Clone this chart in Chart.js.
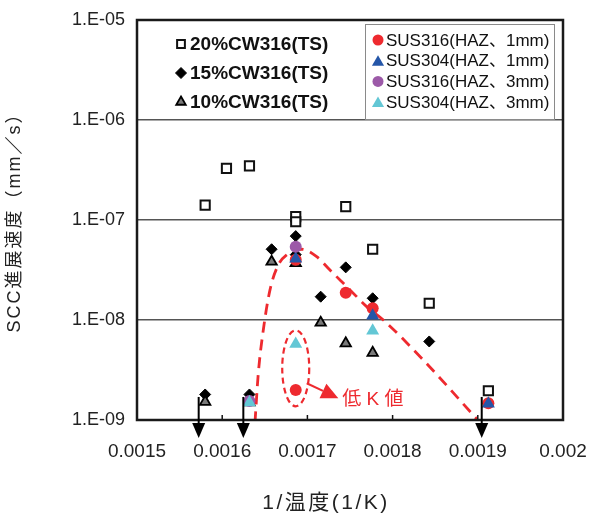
<!DOCTYPE html>
<html lang="ja">
<head>
  <meta charset="UTF-8" />
  <title>SCC進展速度</title>
  <script src="https://cdn.jsdelivr.net/npm/chart.js"></script>
  <style>
    body { margin: 0; background: #fff; }
    canvas { display: block; }
  </style>
</head>
<body>
  <canvas id="scc" width="591" height="513"></canvas>

  <script>
    // axis ticks
    const xTicks = [0.0015, 0.0016, 0.0017, 0.0018, 0.0019, 0.002];
    const xTickLabels = ['0.0015', '0.0016', '0.0017', '0.0018', '0.0019', '0.002'];
    const yTicks = [1e-9, 1e-8, 1e-7, 1e-6, 1e-5];
    const yTickLabels = ['1.E-09', '1.E-08', '1.E-07', '1.E-06', '1.E-05'];

    // 20%CW316(TS)
    const cw20X = [0.00158, 0.001605, 0.001632, 0.0016863, 0.0016863, 0.001745, 0.0017766, 0.001843, 0.0019124];
    const cw20Y = [1.41e-7, 3.29e-7, 3.47e-7, 1.08e-7, 9.6e-8, 1.36e-7, 5.1e-8, 1.47e-8, 1.96e-9];
    // 15%CW316(TS)
    const cw15X = [0.00158, 0.001632, 0.001658, 0.0016863, 0.0016863, 0.0017156, 0.001745, 0.0017766, 0.001843];
    const cw15Y = [1.8e-9, 1.8e-9, 5.1e-8, 6.9e-8, 4.5e-8, 1.71e-8, 3.36e-8, 1.65e-8, 6.1e-9];
    // 10%CW316(TS)
    const cw10X = [0.00158, 0.001632, 0.001658, 0.0016863, 0.0017156, 0.001745, 0.0017766];
    const cw10Y = [1.52e-9, 1.5e-9, 3.83e-8, 3.7e-8, 9.4e-9, 5.85e-9, 4.7e-9];
    // SUS316(HAZ、1mm)
    const s316aX = [0.0016863, 0.0016863, 0.001745, 0.0017766, 0.0019124];
    const s316aY = [4.0e-8, 2.0e-9, 1.87e-8, 1.31e-8, 1.47e-9];
    // SUS304(HAZ、1mm)
    const s304aX = [0.0016863, 0.0017766, 0.0019124];
    const s304aY = [4.1e-8, 1.1e-8, 1.45e-9];
    // SUS316(HAZ、3mm)
    const s316bX = [0.001632, 0.0016863];
    const s316bY = [1.55e-9, 5.4e-8];
    // SUS304(HAZ、3mm)
    const s304bX = [0.001632, 0.0016863, 0.0017766];
    const s304bY = [1.5e-9, 5.75e-9, 7.8e-9];

    // dashed trend curve
    const curveX = [0.0016385, 0.0016424, 0.0016482, 0.0016561, 0.0016658, 0.0016757, 0.0016933, 0.0017109, 0.0017265, 0.00175, 0.0017696, 0.0017891, 0.001836, 0.001899];
    const curveY = [9.5e-10, 2.95e-9, 7.9e-9, 2.0e-8, 3.55e-8, 4.47e-8, 5.1e-8, 4.3e-8, 3.16e-8, 2.0e-8, 1.36e-8, 1.0e-8, 3.98e-9, 1.02e-9];

    // "below detection" arrows
    const arrowX = [0.0015724, 0.0016248, 0.0019046];
    const arrowTopY = 1.7e-9;

    // low K group (ellipse + pointer)
    const lowKCenter = { x: 0.0016863, y: 3.29e-9 };
    const lowKFrom = { x: 0.0016992, y: 2.33e-9 };
    const lowKTo = { x: 0.0017363, y: 1.65e-9 };
    const lowKLabel = '低 K 値';

    const legendLeft = ['20%CW316(TS)', '15%CW316(TS)', '10%CW316(TS)'];
    const legendRight = ['SUS316(HAZ、1mm)', 'SUS304(HAZ、1mm)', 'SUS316(HAZ、3mm)', 'SUS304(HAZ、3mm)'];

    const RED = '#ee2a2f';
    const BLUE = '#2456a8';
    const PURPLE = '#9c5aa8';
    const CYAN = '#63c7d5';
    const GREY = '#7a7a7a';
    const FONT = '"Liberation Sans", Arial, "Noto Sans CJK JP", sans-serif';

    const pts = (xs, ys) => xs.map((x, i) => ({ x: x, y: ys[i] }));

    const markers = {
      cw20: { style: 'rect', r: 6.5, fill: '#fff', stroke: '#111', bw: 2 },
      cw15: { style: 'rectRot', r: 5.5, fill: '#000', stroke: '#000', bw: 1 },
      cw10: { style: 'triangle', r: 6, fill: GREY, stroke: '#000', bw: 1.8 },
      s316a: { style: 'circle', r: 6, fill: RED, stroke: RED, bw: 0 },
      s304a: { style: 'triangle', r: 7.5, fill: BLUE, stroke: BLUE, bw: 0 },
      s316b: { style: 'circle', r: 6, fill: PURPLE, stroke: PURPLE, bw: 0 },
      s304b: { style: 'triangle', r: 7.5, fill: CYAN, stroke: CYAN, bw: 0 }
    };

    function scatterSet(label, data, m, order) {
      return {
        label: label,
        data: data,
        showLine: false,
        pointStyle: m.style,
        pointRadius: m.r,
        pointBackgroundColor: m.fill,
        pointBorderColor: m.stroke,
        pointBorderWidth: m.bw,
        order: order
      };
    }

    function drawMarker(ctx, m, x, y) {
      ctx.save();
      ctx.fillStyle = m.fill;
      ctx.strokeStyle = m.stroke;
      ctx.lineWidth = m.bw;
      ctx.beginPath();
      const r = m.r;
      if (m.style === 'rect') {
        const s = r * Math.SQRT1_2;
        ctx.rect(x - s, y - s, 2 * s, 2 * s);
      } else if (m.style === 'rectRot') {
        ctx.moveTo(x, y - r); ctx.lineTo(x + r, y); ctx.lineTo(x, y + r); ctx.lineTo(x - r, y); ctx.closePath();
      } else if (m.style === 'triangle') {
        const a = 2 * Math.PI / 3;
        ctx.moveTo(x, y - r);
        ctx.lineTo(x + Math.sin(a) * r, y - Math.cos(a) * r);
        ctx.lineTo(x + Math.sin(2 * a) * r, y - Math.cos(2 * a) * r);
        ctx.closePath();
      } else {
        ctx.arc(x, y, r, 0, Math.PI * 2);
      }
      ctx.fill();
      if (m.bw > 0) ctx.stroke();
      ctx.restore();
    }

    const extras = {
      id: 'extras',
      afterDraw(chart) {
        const ctx = chart.ctx;
        const a = chart.chartArea;
        const xs = chart.scales.x, ys = chart.scales.y;

        // inward ticks on the x axis
        ctx.save();
        ctx.strokeStyle = '#111';
        ctx.lineWidth = 1.5;
        xTicks.forEach(v => {
          const px = xs.getPixelForValue(v);
          ctx.beginPath(); ctx.moveTo(px, a.bottom); ctx.lineTo(px, a.bottom - 5); ctx.stroke();
        });
        ctx.restore();

        // frame
        ctx.save();
        ctx.strokeStyle = '#1a1a1a';
        ctx.lineWidth = 2.5;
        ctx.strokeRect(a.left, a.top, a.right - a.left, a.bottom - a.top);
        ctx.restore();

        // arrows
        ctx.save();
        ctx.strokeStyle = '#000';
        ctx.fillStyle = '#000';
        ctx.lineWidth = 2;
        arrowX.forEach(v => {
          const px = xs.getPixelForValue(v);
          const top = ys.getPixelForValue(arrowTopY);
          ctx.beginPath(); ctx.moveTo(px, top); ctx.lineTo(px, a.bottom + 4); ctx.stroke();
          ctx.beginPath();
          ctx.moveTo(px - 6.5, a.bottom + 3);
          ctx.lineTo(px + 6.5, a.bottom + 3);
          ctx.lineTo(px, a.bottom + 18);
          ctx.closePath(); ctx.fill();
        });
        ctx.restore();

        // low K ellipse and pointer
        ctx.save();
        ctx.strokeStyle = RED;
        ctx.fillStyle = RED;
        ctx.lineWidth = 2.2;
        ctx.setLineDash([6, 4]);
        ctx.beginPath();
        ctx.ellipse(xs.getPixelForValue(lowKCenter.x), ys.getPixelForValue(lowKCenter.y), 13.5, 38, 0, 0, Math.PI * 2);
        ctx.stroke();
        ctx.setLineDash([]);
        const fx = xs.getPixelForValue(lowKFrom.x), fy = ys.getPixelForValue(lowKFrom.y);
        const tx = xs.getPixelForValue(lowKTo.x), ty = ys.getPixelForValue(lowKTo.y);
        const ang = Math.atan2(ty - fy, tx - fx);
        const hl = 17, hw = 8;
        const bx = tx - Math.cos(ang) * hl, by = ty - Math.sin(ang) * hl;
        ctx.lineWidth = 2;
        ctx.beginPath(); ctx.moveTo(fx, fy); ctx.lineTo(bx, by); ctx.stroke();
        ctx.beginPath();
        ctx.moveTo(tx, ty);
        ctx.lineTo(bx + Math.sin(ang) * hw, by - Math.cos(ang) * hw);
        ctx.lineTo(bx - Math.sin(ang) * hw, by + Math.cos(ang) * hw);
        ctx.closePath(); ctx.fill();
        ctx.font = '19px ' + FONT;
        ctx.textBaseline = 'middle';
        ctx.textAlign = 'left';
        ctx.fillText(lowKLabel, tx + 4, ty + 2);
        ctx.restore();

        // left legend (no frame)
        const leftKeys = ['cw20', 'cw15', 'cw10'];
        ctx.save();
        ctx.font = 'bold 19px ' + FONT;
        ctx.fillStyle = '#111';
        ctx.textBaseline = 'middle';
        legendLeft.forEach((t, i) => {
          const y = 44 + i * 29;
          const m = Object.assign({}, markers[leftKeys[i]]);
          m.r = Math.min(m.r, 5.5);
          drawMarker(ctx, m, 181, y);
          ctx.fillText(t, 190, y + 1);
        });
        ctx.restore();

        // right legend (framed)
        const rightKeys = ['s316a', 's304a', 's316b', 's304b'];
        ctx.save();
        ctx.fillStyle = '#fff';
        ctx.fillRect(365, 24, 190, 95);
        ctx.strokeStyle = '#8a8a8a';
        ctx.lineWidth = 1;
        ctx.strokeRect(365.5, 24.5, 189, 95);
        ctx.font = '17px ' + FONT;
        ctx.fillStyle = '#111';
        ctx.textBaseline = 'middle';
        legendRight.forEach((t, i) => {
          const y = 40 + i * 20.7;
          const m = Object.assign({}, markers[rightKeys[i]]);
          m.r = m.style === 'triangle' ? 7 : 5.5;
          drawMarker(ctx, m, 378, m.style === 'triangle' ? y + 1.5 : y);
          ctx.fillText(t, 386, y + 1);
        });
        ctx.restore();

        // axis titles
        ctx.save();
        ctx.fillStyle = '#222';
        ctx.textAlign = 'center';
        ctx.textBaseline = 'middle';
        ctx.font = '21px ' + FONT;
        ctx.letterSpacing = '2.5px';
        ctx.fillText('1/温度(1/K)', 326, 503);
        ctx.font = '18px ' + FONT;
        ctx.letterSpacing = '2px';
        ctx.translate(15, 218);
        ctx.rotate(-Math.PI / 2);
        ctx.fillText('SCC進展速度（mm／s）', 0, 0);
        ctx.restore();
      }
    };

    const datasets = [
      scatterSet(legendLeft[0], pts(cw20X, cw20Y), markers.cw20, 7),
      scatterSet(legendLeft[1], pts(cw15X, cw15Y), markers.cw15, 6),
      scatterSet(legendLeft[2], pts(cw10X, cw10Y), markers.cw10, 5),
      scatterSet(legendRight[0], pts(s316aX, s316aY), markers.s316a, 4),
      scatterSet(legendRight[1], pts(s304aX, s304aY), markers.s304a, 3),
      scatterSet(legendRight[2], pts(s316bX, s316bY), markers.s316b, 2),
      scatterSet(legendRight[3], pts(s304bX, s304bY), markers.s304b, 1),
      {
        label: 'trend',
        data: pts(curveX, curveY),
        showLine: true,
        borderColor: RED,
        borderWidth: 2.8,
        borderDash: [11, 7],
        pointRadius: 0,
        cubicInterpolationMode: 'monotone',
        order: 8
      }
    ];

    new Chart(document.getElementById('scc'), {
      type: 'scatter',
      data: { datasets: datasets },
      options: {
        responsive: false,
        animation: false,
        devicePixelRatio: 1,
        layout: { padding: { top: 20, right: 28, left: 0, bottom: 0 } },
        plugins: { legend: { display: false }, tooltip: { enabled: false } },
        scales: {
          x: {
            type: 'linear',
            min: 0.0015,
            max: 0.002,
            grid: { display: false, drawTicks: false },
            border: { display: false },
            afterBuildTicks: s => { s.ticks = xTicks.map(v => ({ value: v })); },
            afterFit: s => { s.height = 93; s.paddingLeft = 0; s.paddingRight = 0; },
            ticks: {
              padding: 20,
              color: '#222',
              font: { family: FONT, size: 19 },
              maxRotation: 0,
              callback: (v, i) => xTickLabels[i]
            }
          },
          y: {
            type: 'logarithmic',
            min: 1e-9,
            max: 1e-5,
            grid: { color: '#555', lineWidth: 1.5, drawTicks: false },
            border: { display: false },
            afterBuildTicks: s => { s.ticks = yTicks.map(v => ({ value: v })); },
            afterFit: s => { s.width = 137; s.paddingTop = 0; s.paddingBottom = 0; },
            ticks: {
              padding: 12,
              color: '#222',
              font: { family: FONT, size: 18 },
              callback: (v, i) => yTickLabels[i]
            }
          }
        }
      },
      plugins: [extras]
    });
  </script>
</body>
</html>
